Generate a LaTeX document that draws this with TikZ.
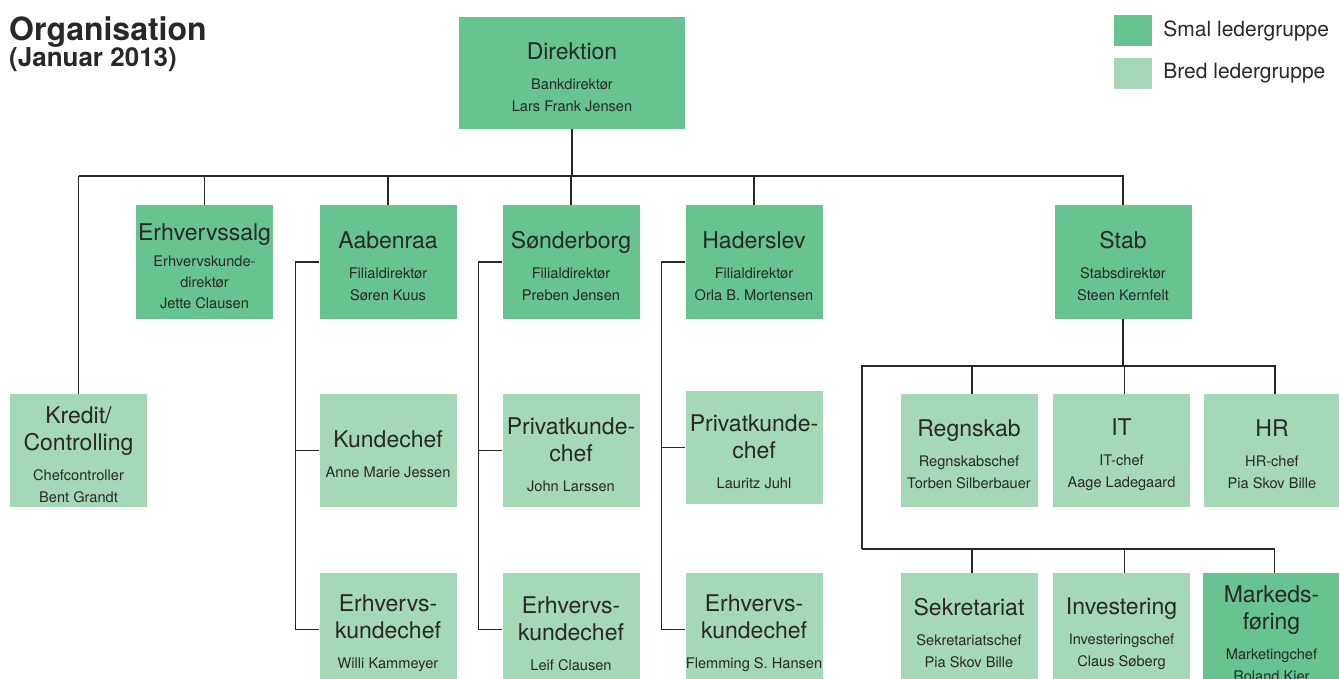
\documentclass[tikz,border=0pt]{standalone}
\usepackage{fontspec}
\setmainfont{TeX Gyre Heros}
\usetikzlibrary{positioning}

\definecolor{smalgreen}{RGB}{103,195,143}
\definecolor{bredgreen}{RGB}{165,216,183}
\definecolor{ink}{RGB}{40,40,40}
\newcommand\hd{\fontsize{23}{27}\selectfont}
\newcommand\topgap{\rule{0pt}{25pt}}

\begin{document}
\begin{tikzpicture}[
  x=1pt, y=-1pt,
  font=\fontsize{14.6}{22}\selectfont,
  text=ink,
  unit/.style={minimum width=137pt, minimum height=113pt, inner sep=0pt, align=center},
  smal/.style={unit, fill=smalgreen},
  bred/.style={unit, fill=bredgreen},
  key/.style={minimum width=38pt, minimum height=31pt, inner sep=0pt},
  link/.style={draw=ink, line width=1.1pt},
]
  \useasboundingbox (0,0) rectangle (1339,679);

  % heading and legend
  \node[anchor=base west, inner sep=0pt, font=\fontsize{32}{36}\selectfont\bfseries] (title) at (9,40.5) {Organisation};
  \node[anchor=base west, inner sep=0pt, font=\fontsize{26}{30}\selectfont\bfseries] (date) at (9,67) {(Januar 2013)};
  \node[key, fill=smalgreen] (lsmal) at (1133,30.5) {};
  \node[key, fill=bredgreen] (lbred) at (1133,73.5) {};
  \node[right=11pt of lsmal, inner sep=0pt, font=\fontsize{21}{24}\selectfont] (lsmaltxt) {Smal ledergruppe};
  \node[right=11pt of lbred, inner sep=0pt, font=\fontsize{21}{24}\selectfont] (lbredtxt) {Bred ledergruppe};

  % boxes
  \node[smal, minimum width=226pt, minimum height=112pt] (dir) at (572,73) {{\hd\topgap Direktion}\\[8pt]Bankdirektør\\Lars Frank Jensen};

  \node[smal] (ers)  at (204.5,262) {{\hd\topgap Erhvervssalg}\\[4pt]Erhvervskunde-\\[-1pt]direktør\\[-1pt]Jette Clausen};
  \node[smal] (aab)  at (388,262)   {{\hd\topgap Aabenraa}\\[8pt]Filialdirektør\\Søren Kuus};
  \node[smal] (son)  at (571,262)   {{\hd\topgap Sønderborg}\\[8pt]Filialdirektør\\Preben Jensen};
  \node[smal] (had)  at (754,262)   {{\hd\topgap Haderslev}\\[8pt]Filialdirektør\\Orla B. Mortensen};
  \node[smal] (stab) at (1123,262)  {{\hd\topgap Stab}\\[8pt]Stabsdirektør\\Steen Kernfelt};

  \node[bred] (kre)  at (78.5,450.5) {{\hd\topgap Kredit/}\\[5pt]{\hd Controlling}\\[8pt]Chefcontroller\\Bent Grandt};
  \node[bred] (kun)  at (388,450.5)  {{\hd\topgap Kundechef}\\[8pt]Anne Marie Jessen};
  \node[bred] (spri) at (571,450.5)  {{\hd\topgap Privatkunde-}\\[5pt]{\hd chef}\\[8pt]John Larssen};
  \node[bred] (hpri) at (754,447.5)  {{\hd\topgap Privatkunde-}\\[5pt]{\hd chef}\\[8pt]Lauritz Juhl};
  \node[bred] (aerh) at (388,629.5)  {{\hd\topgap Erhvervs-}\\[5pt]{\hd kundechef}\\[8pt]Willi Kammeyer};
  \node[bred] (serh) at (571,629.5)  {{\hd\topgap Erhvervs-}\\[5pt]{\hd kundechef}\\[8pt]Leif Clausen};
  \node[bred] (herh) at (754,629.5)  {{\hd\topgap Erhvervs-}\\[5pt]{\hd kundechef}\\[8pt]Flemming S. Hansen};

  \node[bred] (reg) at (969,450.5)    {{\hd\topgap Regnskab}\\[8pt]Regnskabschef\\Torben Silberbauer};
  \node[bred] (it)  at (1121.5,450.5) {{\hd\topgap IT}\\[8pt]IT-chef\\Aage Ladegaard};
  \node[bred] (hr)  at (1272,450.5)   {{\hd\topgap HR}\\[8pt]HR-chef\\Pia Skov Bille};
  \node[bred] (sek) at (969,629.5)    {{\hd\topgap Sekretariat}\\[8pt]Sekretariatschef\\Pia Skov Bille};
  \node[bred] (inv) at (1121.5,629.5) {{\hd\topgap Investering}\\[8pt]Investeringschef\\Claus Søberg};
  \node[smal] (mar) at (1271.5,629.5) {{\hd\topgap Markeds-}\\[5pt]{\hd føring}\\[8pt]Marketingchef\\Roland Kier};

  % top bus
  \coordinate (tl) at (78.5,176);
  \draw[link] (dir.south) -- (dir.south |- tl);
  \draw[link] (tl) -- (kre.north);
  \foreach \b in {ers, aab, son, had, stab}
    \draw[link] (tl) -| (\b.north);

  % branch lines on the left of each branch column
  \foreach \top/\mid/\low in {aab/kun/aerh, son/spri/serh, had/hpri/herh} {
    \draw[link] (\top.west) -- ++(-24,0) |- (\low.west);
    \draw[link] (\mid.west) -- ++(-24,0);
  }

  % staff units
  \coordinate (sl) at (862,366);
  \coordinate (sd) at (862,549);
  \draw[link] (stab.south) |- (sl) -- (sd);
  \foreach \b in {reg, it, hr}
    \draw[link] (sl) -| ([xshift=3pt]\b.north);
  \foreach \b in {sek, inv, mar}
    \draw[link] (sd) -| ([xshift=3pt]\b.north);
\end{tikzpicture}
\end{document}
